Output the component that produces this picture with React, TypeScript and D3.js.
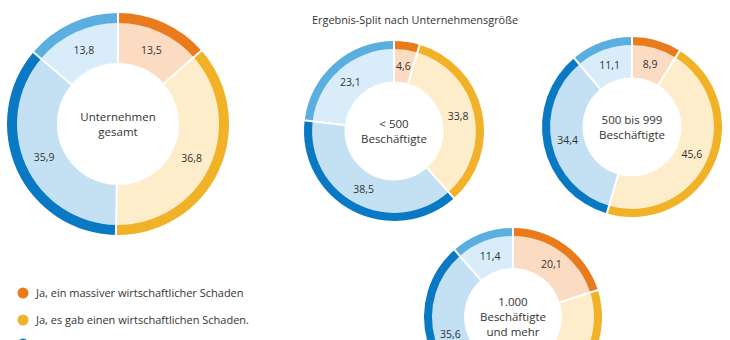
import React from "react";
import * as d3 from "d3";

const categories = [
  "Ja, ein massiver wirtschaftlicher Schaden",
  "Ja, es gab einen wirtschaftlichen Schaden.",
  "Nein, es gab keinen wirtschaftlichen Schaden.",
  "Weiß nicht / keine Angabe",
];
const darkColors = ["#ea7b1c", "#f1b228", "#0a79c3", "#5aaee0"];
const lightColors = ["#fbdcc3", "#fdedcb", "#c4e0f3", "#d9ecf9"];

const groupTitles = [
  ["Unternehmen", "gesamt"],
  ["< 500", "Beschäftigte"],
  ["500 bis 999", "Beschäftigte"],
  ["1.000", "Beschäftigte", "und mehr"],
];
const totalValues = [13.5, 36.8, 35.9, 13.8];
const under500Values = [4.6, 33.8, 38.5, 23.1];
const mid500Values = [8.9, 45.6, 34.4, 11.1];
const over1000Values = [20.1, 32.9, 35.6, 11.4];
const groupValues = [totalValues, under500Values, mid500Values, over1000Values];

const layout = [
  { cx: 118, cy: 124, r: 111 },
  { cx: 394, cy: 131, r: 90 },
  { cx: 632, cy: 127, r: 90 },
  { cx: 513, cy: 317, r: 89 },
];

const FONT = "'Open Sans', 'Noto Sans', sans-serif";
const fmt = (v: number) => v.toFixed(1).replace(".", ",");

function Donut({ values, title, cx, cy, r }: { values: number[]; title: string[]; cx: number; cy: number; r: number }) {
  const pie = d3.pie<number>().sort(null).value((d) => d);
  const arcs = pie(values);
  const bandIn = r * 0.91;
  const hole = r * 0.55;
  const outer = d3.arc<d3.PieArcDatum<number>>().outerRadius(r).innerRadius(bandIn);
  const inner = d3.arc<d3.PieArcDatum<number>>().outerRadius(bandIn + 0.5).innerRadius(hole);
  const labelR = r * 0.73;
  const lineH = 15;
  const fs = 11.5;
  const startY = -((title.length - 1) * lineH) / 2 + 4;
  return (
    <g transform={`translate(${cx},${cy})`}>
      {arcs.map((a, i) => (
        <path key={"i" + i} d={inner(a) || ""} fill={lightColors[i]} />
      ))}
      {arcs.map((a, i) => (
        <path key={"o" + i} d={outer(a) || ""} fill={darkColors[i]} />
      ))}
      {arcs.map((a, i) => (
        <line
          key={"s" + i}
          x1={Math.sin(a.startAngle) * (hole - 1)}
          y1={-Math.cos(a.startAngle) * (hole - 1)}
          x2={Math.sin(a.startAngle) * (r + 1)}
          y2={-Math.cos(a.startAngle) * (r + 1)}
          stroke="#fff"
          strokeWidth={2}
        />
      ))}
      {arcs.map((a, i) => {
        const m = (a.startAngle + a.endAngle) / 2;
        return (
          <text
            key={"l" + i}
            x={Math.sin(m) * labelR}
            y={-Math.cos(m) * labelR}
            dy="0.35em"
            textAnchor="middle"
            fontSize={10.5}
            fill="#333"
            fontFamily={FONT}
          >
            {fmt(values[i])}
          </text>
        );
      })}
      {title.map((t, i) => (
        <text key={"t" + i} x={0} y={startY + i * lineH} textAnchor="middle" fontSize={fs} fill="#333" fontFamily={FONT}>
          {t}
        </text>
      ))}
    </g>
  );
}

export default function App() {
  const legendY = [293, 320, 344, 370];
  return (
    <svg width={730} height={340} style={{ position: "fixed", left: 0, top: 0, background: "#fff" }}>
      <rect width={730} height={340} fill="#fff" />
      <text x={312} y={24} fontSize={10.9} fill="#333" fontFamily={FONT}>
        Ergebnis-Split nach Unternehmensgröße
      </text>
      {groupValues.map((v, i) => (
        <Donut key={i} values={v} title={groupTitles[i]} {...layout[i]} />
      ))}
      {categories.map((c, i) => (
        <g key={c} transform={`translate(23,${legendY[i]})`}>
          <circle r={5.5} fill={darkColors[i]} />
          <text x={13} dy="0.35em" fontSize={11} fill="#333" fontFamily={FONT}>
            {c}
          </text>
        </g>
      ))}
    </svg>
  );
}
